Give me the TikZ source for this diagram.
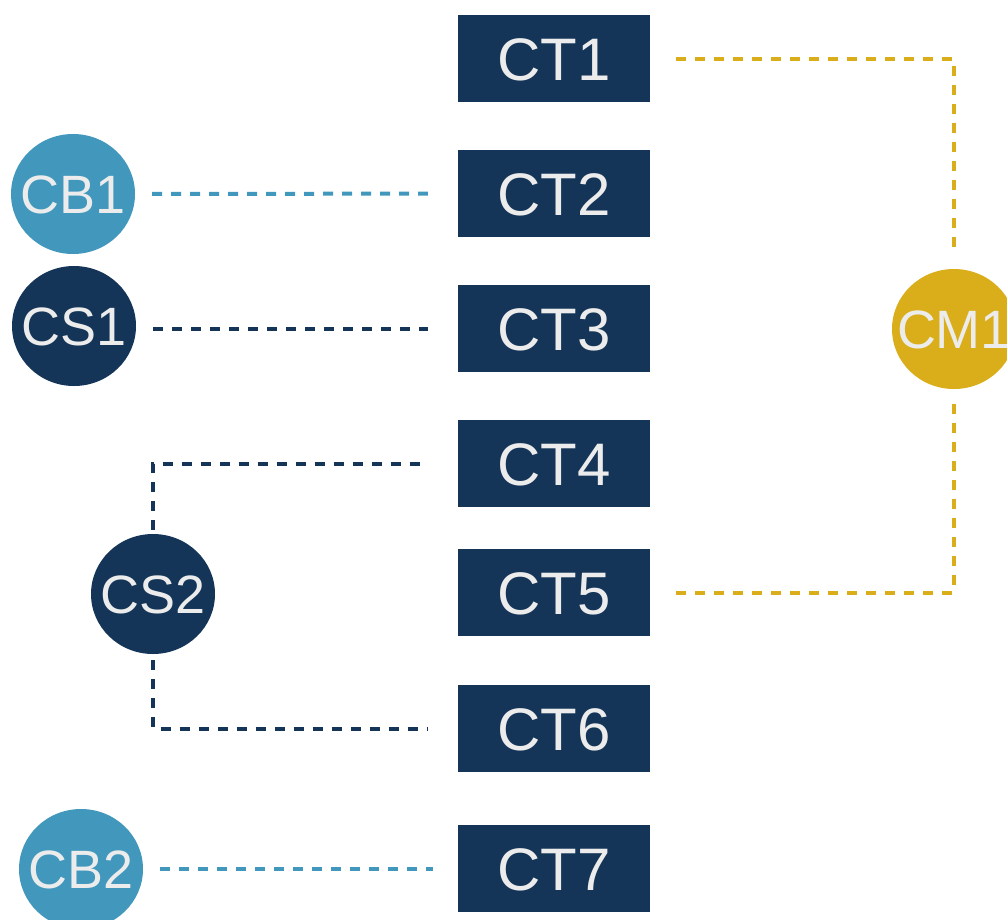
\documentclass[tikz,border=0pt]{standalone}
\usepackage{fontspec}
\setmainfont{Liberation Sans}
\usetikzlibrary{shapes.geometric}
\definecolor{navy}{HTML}{143558}
\definecolor{lblue}{HTML}{4298BC}
\definecolor{gold}{HTML}{D9AE1A}
\definecolor{txt}{HTML}{ECECEC}
\newcommand{\zw}[1]{\makebox[0pt][c]{#1}}
\tikzset{
  ctbox/.style={rectangle, fill=navy, minimum width=192pt, minimum height=87pt, inner sep=0pt,
    text=txt, font=\fontsize{60pt}{60pt}\selectfont, text height=43pt, text depth=0pt},
  bubble/.style={ellipse, minimum width=124pt, minimum height=120pt, inner sep=0pt,
    text=txt, font=\fontsize{54pt}{54pt}\selectfont, text height=39pt, text depth=0pt},
  link/.style={line width=4pt, dash pattern=on 10pt off 9pt},
}
\begin{document}
\begin{tikzpicture}[x=1pt,y=-1pt]
\useasboundingbox (0,0) rectangle (1007,919);
\node[ctbox] (ct1) at (554,58.5) {CT1};
\node[ctbox] (ct2) at (554,193.5) {CT2};
\node[ctbox] (ct3) at (554,328.5) {CT3};
\node[ctbox] (ct4) at (554,463.5) {CT4};
\node[ctbox] (ct5) at (554,592.5) {CT5};
\node[ctbox] (ct6) at (554,728.5) {CT6};
\node[ctbox] (ct7) at (554,868.5) {CT7};
\node[bubble, fill=lblue] (cb1) at (73,194) {\zw{CB1}};
\node[bubble, fill=navy] (cs1) at (74,326) {\zw{CS1}};
\node[bubble, fill=navy] (cs2) at (153,594) {\zw{CS2}};
\node[bubble, fill=lblue] (cb2) at (81,869) {\zw{CB2}};
\node[bubble, fill=gold] (cm1) at (954,329) {\zw{CM1}};
\draw[link, lblue, shorten <=17pt, shorten >=30pt] (cb1) -- (ct2);
\draw[link, navy, shorten <=17pt, shorten >=30pt] (cs1.east |- ct3) -- (ct3);
\draw[link, navy, shorten <=4pt, shorten >=32pt] (cs2.north) |- (ct4.west);
\draw[link, navy, shorten <=6pt, shorten >=31pt] (cs2.south) |- (ct6.west);
\draw[link, lblue, shorten <=17pt, shorten >=25pt] (cb2.east |- ct7) -- (ct7);
\draw[link, gold, shorten <=26pt, shorten >=17pt] (ct1.east) -| (cm1.north);
\draw[link, gold, shorten <=26pt, shorten >=15pt] (ct5.east) -| (cm1.south);
\end{tikzpicture}
\end{document}
